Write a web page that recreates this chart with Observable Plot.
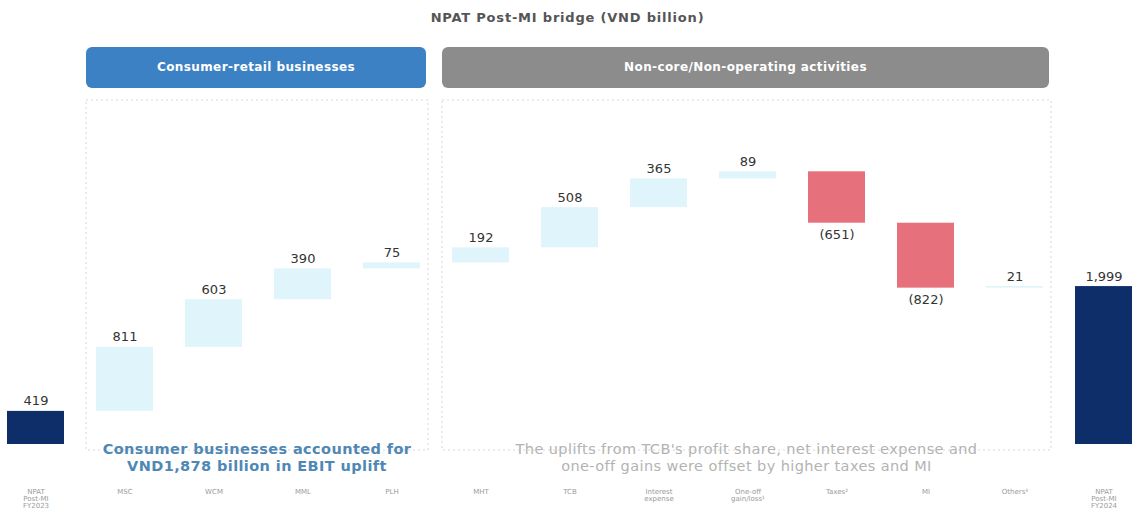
<!DOCTYPE html>
<html><head><meta charset="utf-8">
<script src="https://cdn.jsdelivr.net/npm/d3@7"></script>
<script src="https://cdn.jsdelivr.net/npm/@observablehq/plot@0.6"></script>
<style>
body{margin:0;background:#fff;font-family:"DejaVu Sans",sans-serif;}
#title{height:36px;line-height:36px;text-align:center;font-size:13px;font-weight:600;color:#555;letter-spacing:0.8px;font-family:"DejaVu Sans",sans-serif;}
#chart svg{font-family:"DejaVu Sans",sans-serif;overflow:visible;}
g[aria-label="x-axis tick label"]{color:#9a9a9a;}
</style></head><body>
<div id="title">NPAT Post-MI bridge (VND billion)</div>
<div id="chart"></div>
<script>
// ---- data ----
const categories = ["FY2023","MSC","WCM","MML","PLH","MHT","TCB","Interest","OneOff","Taxes","MI","Others","FY2024"];
const tickLabels = ["NPAT\nPost-MI\nFY2023","MSC","WCM","MML","PLH","MHT","TCB","Interest\nexpense","One-off\ngain/loss¹","Taxes²","MI","Others³","NPAT\nPost-MI\nFY2024"];
const values = [419, 811, 603, 390, 75, 192, 508, 365, 89, -651, -822, 21, 1999];
const totals = ["FY2023","FY2024"];
const groupLabels = ["Consumer-retail businesses","Non-core/Non-operating activities"];
const groupFrom = ["MSC","MHT"];
const groupTo = ["PLH","Others"];
const groupColors = ["#3d81c5","#8c8c8c"];
const notes = ["Consumer businesses accounted for\nVND1,878 billion in EBIT uplift",
               "The uplifts from TCB's profit share, net interest expense and\none-off gains were offset by higher taxes and MI"];
const noteColors = ["#4f88b5","#b3b3b3"];

// ---- derived table ----
let run = 0;
const rows = categories.map((c, i) => {
  const v = values[i];
  const total = totals.includes(c);
  let y1, y2;
  if (total) { y1 = 0; y2 = v; run = v; } else { y1 = run; y2 = run + v; run = y2; }
  const kind = total ? "total" : (v >= 0 ? "up" : "down");
  return {cat: c, y1, y2, v, kind, top: Math.max(y1, y2), bottom: Math.min(y1, y2),
          label: v < 0 ? `(${d3.format(",")(-v)})` : d3.format(",")(v)};
});
const colorOf = {total: "#0d2e68", up: "#dff5fb", down: "#e6717d"};
const labelFor = new Map(categories.map((c, i) => [c, tickLabels[i]]));

const plot = Plot.plot({
  width: 1135, height: 483,
  marginTop: 92, marginBottom: 75, marginLeft: 0, marginRight: 0,
  x: {type: "band", domain: categories, range: [-11.6, 1149.6], paddingInner: 0.36, paddingOuter: 0.18, label: null},
  y: {domain: [0, 4000], axis: null},
  marks: [
    Plot.barY(rows, {x: "cat", y1: "y1", y2: "y2", fill: d => colorOf[d.kind]}),
    Plot.text(rows.filter(d => d.kind !== "down"), {x: "cat", y: "top", text: "label", lineAnchor: "bottom", dy: -6, fontSize: 13, fill: "#333", letterSpacing: 0.6}),
    Plot.text(rows.filter(d => d.kind === "down"), {x: "cat", y: "bottom", text: "label", lineAnchor: "top", dy: 7, fontSize: 13, fill: "#333", letterSpacing: 0.6}),
    Plot.axisX({tickSize: 0, tickPadding: 45, fontSize: 7, tickFormat: d => labelFor.get(d), label: null})
  ]
});
document.getElementById("chart").appendChild(plot);

// ---- group headers, frames and notes positioned from Plot's x scale ----
const xs = plot.scale("x");
const bw = xs.bandwidth, step = xs.step;
const xpos = d => (xs.apply ? xs.apply(d) : (xs.range[0] + step * (xs.paddingOuter ?? 0.18) + step * xs.domain.indexOf(d)));
const svg = d3.select(plot);
const layer = svg.insert("g", ":first-child");
groupLabels.forEach((g, i) => {
  const c0 = xpos(groupFrom[i]) + bw / 2, c1 = xpos(groupTo[i]) + bw / 2;
  const hx0 = c0 - step / 2 + 6, hx1 = c1 + step / 2 - 10;
  const fx0 = c0 - step / 2 + 6, fx1 = c1 + step / 2 - 8;
  // dashed frame
  layer.append("rect").attr("x", fx0).attr("y", 64).attr("width", fx1 - fx0).attr("height", 350)
    .attr("fill", "none").attr("stroke", "#d6d6d6").attr("stroke-dasharray", "2,3").attr("stroke-width", 1);
  // header box
  svg.append("rect").attr("x", hx0).attr("y", 11).attr("width", hx1 - hx0).attr("height", 41)
    .attr("rx", 6).attr("fill", groupColors[i]);
  svg.append("text").attr("x", (hx0 + hx1) / 2).attr("y", 31.5).attr("text-anchor", "middle")
    .attr("dominant-baseline", "middle").attr("fill", "#fff").attr("font-size", 12).attr("font-weight", 700)
    .attr("letter-spacing", 0.4).text(g);
  // note
  const t = svg.append("text").attr("text-anchor", "middle").attr("fill", noteColors[i])
    .attr("font-size", 14.5).attr("font-weight", i === 0 ? 600 : 400).attr("letter-spacing", 0.4);
  notes[i].split("\n").forEach((line, k) => {
    t.append("tspan").attr("x", (fx0 + fx1) / 2).attr("y", 418 + k * 17).text(line);
  });
});
</script>
</body></html>
